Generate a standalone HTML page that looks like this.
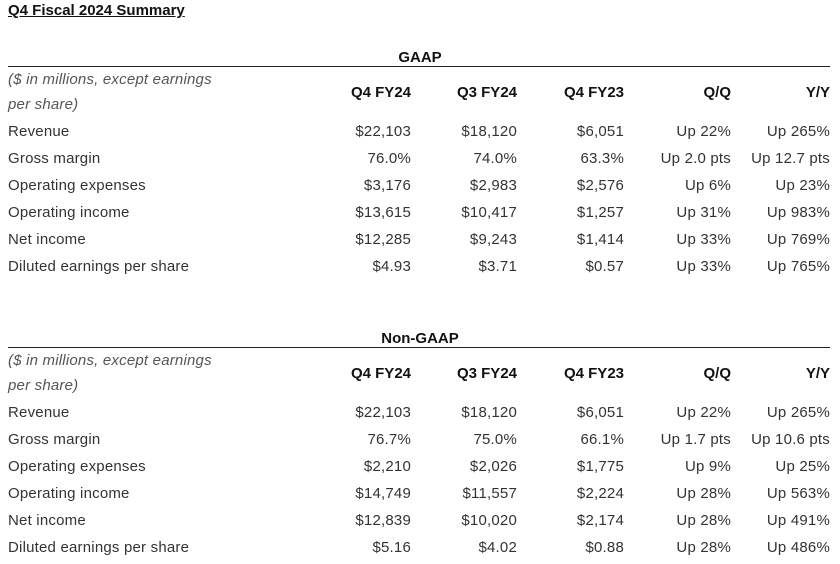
<!DOCTYPE html>
<html><head><meta charset="utf-8"><style>
body{margin:0;width:840px;height:564px;background:#fff;font-family:"Liberation Sans",sans-serif;color:#333;position:relative;overflow:hidden}
.a{position:absolute;white-space:nowrap;font-size:15px;line-height:16px;letter-spacing:0.2px}
.r{text-align:right;transform:translateX(-100%)}
.b{font-weight:bold;color:#111;letter-spacing:0}
.i{font-style:italic;color:#555}
.line{position:absolute;left:8px;width:822px;height:1px;background:#222}
</style></head><body>
<div class="a b" style="left:8px;top:3px;text-decoration:underline;font-size:15px">Q4 Fiscal 2024 Summary</div>
<script>
const labels=["Revenue","Gross margin","Operating expenses","Operating income","Net income","Diluted earnings per share"];
const cols=["Q4 FY24","Q3 FY24","Q4 FY23","Q/Q","Y/Y"];
const gaap=[["$22,103","$18,120","$6,051","Up 22%","Up 265%"],["76.0%","74.0%","63.3%","Up 2.0 pts","Up 12.7 pts"],["$3,176","$2,983","$2,576","Up 6%","Up 23%"],["$13,615","$10,417","$1,257","Up 31%","Up 983%"],["$12,285","$9,243","$1,414","Up 33%","Up 769%"],["$4.93","$3.71","$0.57","Up 33%","Up 765%"]];
const nongaap=[["$22,103","$18,120","$6,051","Up 22%","Up 265%"],["76.7%","75.0%","66.1%","Up 1.7 pts","Up 10.6 pts"],["$2,210","$2,026","$1,775","Up 9%","Up 25%"],["$14,749","$11,557","$2,224","Up 28%","Up 563%"],["$12,839","$10,020","$2,174","Up 28%","Up 491%"],["$5.16","$4.02","$0.88","Up 28%","Up 486%"]];
const root=document.body;
const colX=[411,517,624,731,830];
function txt(t,x,y,cls){const d=document.createElement('div');d.className='a '+cls;d.style.left=x+'px';d.style.top=y+'px';d.textContent=t;root.appendChild(d);return d;}
function section(name,data,top,key){
  const h=txt(name,420,top-8,'b');
  h.style.transform='translateX(-50%)';
  
  
  const ln=document.createElement('div');ln.className='line';ln.style.top=(top+8)+'px';
  
  
  root.appendChild(ln);
  const n1=txt('($ in millions, except earnings',8,top+14,'i');
  
  
  const n2=txt('per share)',8,top+39,'i');
  
  
  cols.forEach((c,j)=>{const e=txt(c,colX[j],top+27,'b r');
    
    });
  labels.forEach((l,i)=>{const y=top+66+i*27;
    const e=txt(l,8,y,'');
    
    
    data[i].forEach((v,j)=>{const c=txt(v,colX[j],y,'r');
      
      });
  });
}
section('GAAP',gaap,58,'gaap');
section('Non-GAAP',nongaap,339,'non-gaap');
</script>
</body></html>
